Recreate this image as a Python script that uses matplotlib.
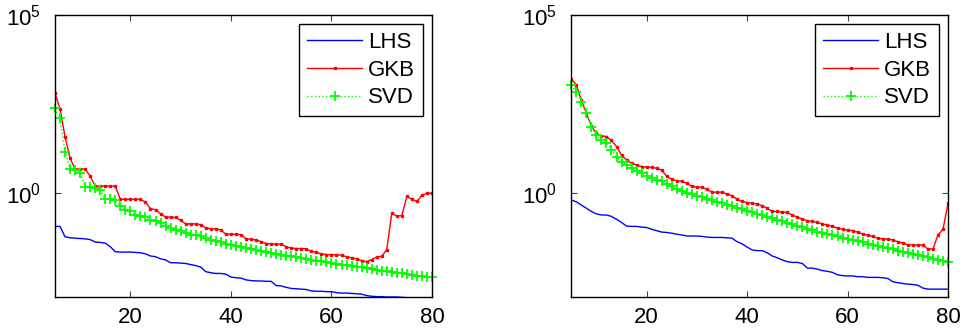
import matplotlib
matplotlib.use('Agg')
import matplotlib.pyplot as plt
import numpy as np
from matplotlib.ticker import NullLocator

plt.rcParams['font.family'] = ['Liberation Sans', 'DejaVu Sans']
plt.rcParams['mathtext.fontset'] = 'custom'
plt.rcParams['mathtext.rm'] = 'Liberation Sans'
plt.rcParams['mathtext.it'] = 'Liberation Sans:italic'
plt.rcParams['mathtext.default'] = 'regular'

# iteration index (x axis)
x = list(range(5, 81))

# values are given as log10 of the plotted quantity
left_lhs_log = [-0.93, -0.93, -1.22, -1.25, -1.26, -1.27, -1.28, -1.30, -1.37, -1.38,
                -1.40, -1.50, -1.64, -1.65, -1.65, -1.65, -1.66, -1.67, -1.70, -1.76,
                -1.78, -1.84, -1.87, -1.95, -1.95, -1.96, -1.97, -2.00, -2.03, -2.07,
                -2.20, -2.23, -2.25, -2.25, -2.27, -2.35, -2.37, -2.38, -2.43, -2.45,
                -2.46, -2.46, -2.47, -2.47, -2.59, -2.60, -2.64, -2.67, -2.68, -2.69,
                -2.70, -2.74, -2.75, -2.75, -2.76, -2.76, -2.79, -2.80, -2.80, -2.81,
                -2.82, -2.83, -2.87, -2.89, -2.90, -2.90, -2.91, -2.91, -2.91, -2.92,
                -2.93, -2.95, -2.96, -2.97, -2.98, -2.99]
left_gkb_log = [2.80, 2.37, 1.59, 0.98, 0.68, 0.68, 0.68, 0.48, 0.20, 0.20,
                0.20, 0.20, 0.20, -0.17, -0.17, -0.17, -0.17, -0.17, -0.25, -0.43,
                -0.46, -0.58, -0.67, -0.67, -0.68, -0.76, -0.86, -0.86, -0.86, -0.88,
                -0.98, -0.99, -1.00, -1.03, -1.15, -1.15, -1.15, -1.16, -1.28, -1.29,
                -1.31, -1.36, -1.41, -1.42, -1.43, -1.43, -1.50, -1.54, -1.55, -1.55,
                -1.56, -1.63, -1.66, -1.70, -1.72, -1.72, -1.73, -1.74, -1.78, -1.81,
                -1.84, -1.89, -1.92, -1.86, -1.79, -1.77, -1.58, -0.56, -0.64, -0.63,
                -0.09, -0.17, -0.23, -0.06, 0.00, 0.00]
left_svd_log = [2.38, 2.10, 1.17, 0.69, 0.65, 0.57, 0.18, 0.18, 0.14, 0.08,
                -0.17, -0.17, -0.19, -0.35, -0.46, -0.51, -0.60, -0.65, -0.67, -0.74,
                -0.79, -0.84, -0.92, -0.98, -1.02, -1.05, -1.12, -1.16, -1.17, -1.21,
                -1.26, -1.30, -1.33, -1.38, -1.42, -1.45, -1.48, -1.51, -1.53, -1.56,
                -1.59, -1.62, -1.65, -1.67, -1.70, -1.73, -1.75, -1.77, -1.80, -1.82,
                -1.85, -1.87, -1.89, -1.91, -1.94, -1.96, -1.98, -2.00, -2.02, -2.04,
                -2.06, -2.08, -2.10, -2.12, -2.15, -2.17, -2.19, -2.21, -2.23, -2.25,
                -2.27, -2.29, -2.31, -2.33, -2.34, -2.36]

right_lhs_log = [-0.19, -0.24, -0.33, -0.42, -0.51, -0.58, -0.61, -0.61, -0.65, -0.73,
                 -0.82, -0.92, -0.93, -0.93, -0.95, -0.96, -1.01, -1.05, -1.09, -1.10,
                 -1.12, -1.15, -1.17, -1.20, -1.20, -1.20, -1.21, -1.23, -1.24, -1.24,
                 -1.24, -1.25, -1.26, -1.36, -1.42, -1.51, -1.59, -1.61, -1.61, -1.67,
                 -1.76, -1.81, -1.87, -1.92, -1.94, -1.94, -1.97, -2.10, -2.10, -2.13,
                 -2.17, -2.19, -2.22, -2.29, -2.31, -2.32, -2.32, -2.34, -2.34, -2.36,
                 -2.36, -2.36, -2.37, -2.39, -2.48, -2.51, -2.53, -2.55, -2.56, -2.58,
                 -2.66, -2.69, -2.69, -2.69, -2.69, -2.69]
right_gkb_log = [3.20, 3.04, 2.62, 2.24, 1.89, 1.68, 1.61, 1.59, 1.48, 1.31,
                 1.07, 0.93, 0.84, 0.79, 0.75, 0.73, 0.73, 0.70, 0.65, 0.47,
                 0.39, 0.35, 0.33, 0.28, 0.19, 0.17, 0.17, 0.11, 0.03, 0.03,
                 0.03, -0.02, -0.07, -0.17, -0.23, -0.26, -0.28, -0.30, -0.35, -0.42,
                 -0.51, -0.51, -0.53, -0.54, -0.61, -0.67, -0.72, -0.77, -0.79, -0.82,
                 -0.86, -0.89, -0.93, -0.98, -1.01, -1.03, -1.05, -1.09, -1.14, -1.18,
                 -1.21, -1.26, -1.28, -1.29, -1.31, -1.36, -1.40, -1.45, -1.45, -1.45,
                 -1.45, -1.57, -1.56, -1.17, -1.01, -0.28]
right_svd_log = [3.04, 2.85, 2.57, 2.25, 1.87, 1.62, 1.50, 1.40, 1.22, 1.02,
                 0.89, 0.79, 0.70, 0.62, 0.56, 0.49, 0.43, 0.37, 0.33, 0.26,
                 0.19, 0.12, 0.07, 0.02, -0.03, -0.07, -0.11, -0.16, -0.20, -0.24,
                 -0.28, -0.32, -0.36, -0.40, -0.45, -0.49, -0.53, -0.57, -0.62, -0.66,
                 -0.70, -0.74, -0.78, -0.83, -0.87, -0.91, -0.95, -0.99, -1.04, -1.08,
                 -1.11, -1.15, -1.18, -1.21, -1.25, -1.28, -1.31, -1.35, -1.38, -1.41,
                 -1.45, -1.48, -1.51, -1.54, -1.57, -1.61, -1.64, -1.67, -1.71, -1.74,
                 -1.77, -1.80, -1.84, -1.87, -1.90, -1.94]

series_labels = ['LHS', 'GKB', 'SVD']
x_ticks = [20, 40, 60, 80]
y_ticks = [1e0, 1e5]

panels = [
    (left_lhs_log, left_gkb_log, left_svd_log),
    (right_lhs_log, right_gkb_log, right_svd_log),
]

fig = plt.figure(figsize=(9.66, 3.36), dpi=100)
positions = [[0.0569, 0.1161, 0.3903, 0.8393], [0.5914, 0.1161, 0.3900, 0.8393]]

for pos, (lhs, gkb, svd) in zip(positions, panels):
    ax = fig.add_axes(pos)
    ax.semilogy(x, np.power(10.0, lhs), color=(0, 0, 1), lw=1.0, label=series_labels[0])
    ax.semilogy(x, np.power(10.0, gkb), color=(1, 0, 0), lw=1.0, marker='s', ms=2.0,
                label=series_labels[1])
    ax.semilogy(x, np.power(10.0, svd), color=(0, 1, 0), ls=':', lw=1.0, marker='+',
                ms=7, mew=1.3, label=series_labels[2], clip_on=False)
    ax.set_xlim(5, 80)
    ax.set_ylim(10 ** -2.91, 1e5)
    ax.set_xticks(x_ticks)
    ax.set_yticks(y_ticks)
    ax.yaxis.set_minor_locator(NullLocator())
    ax.xaxis.set_minor_locator(NullLocator())
    ax.tick_params(axis='both', direction='in', length=4, width=0.8, top=True, right=True,
                   labelsize=16, color='#444444')
    ax.tick_params(axis='y', pad=10)
    ax.tick_params(axis='x', pad=7)
    for sp in ax.spines.values():
        sp.set_linewidth(1.0)
        sp.set_color('k')
    leg = ax.legend(loc='upper right', fontsize=16, numpoints=1, fancybox=False,
                    framealpha=1, edgecolor='k', borderaxespad=0.42, handlelength=2.5,
                    handletextpad=0.25, labelspacing=0.3, borderpad=0.35)
    leg.get_frame().set_linewidth(1.0)

fig.savefig('out.png', dpi=100)
